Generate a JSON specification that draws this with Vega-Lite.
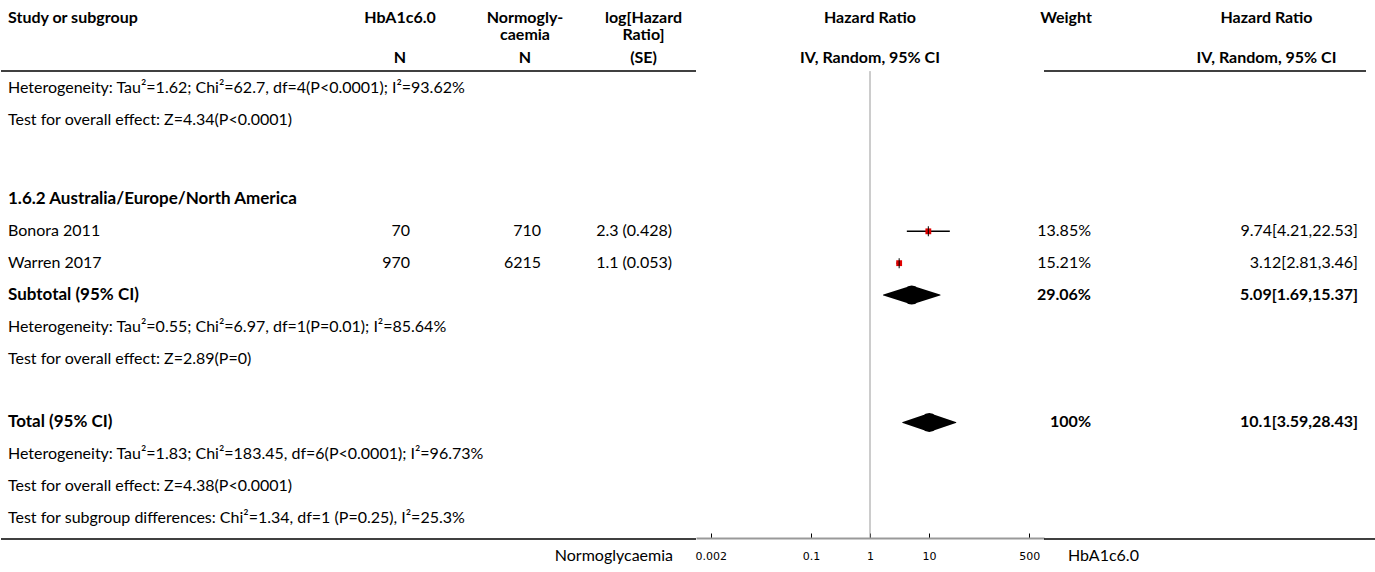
{
  "$schema": "https://vega.github.io/schema/vega-lite/v6.json",
  "padding": 0,
  "spacing": 0,
  "bounds": "flush",
  "config": {"view": {"stroke": null}},
  "datasets": {
    "rows": [
      {"row": 0, "kind": "note", "study": "Heterogeneity: Tau²=1.62; Chi²=62.7, df=4(P<0.0001); I²=93.62%"},
      {"row": 1, "kind": "note", "study": "Test for overall effect: Z=4.34(P<0.0001)"},
      {"row": 3.5, "kind": "group", "study": "1.6.2 Australia/Europe/North America"},
      {"row": 4.5, "kind": "study", "study": "Bonora 2011", "hba": "70", "normo": "710", "logse": "2.3 (0.428)", "weight": "13.85%", "hr": "9.74[4.21,22.53]", "est": 9.74, "lo": 4.21, "hi": 22.53},
      {"row": 5.5, "kind": "study", "study": "Warren 2017", "hba": "970", "normo": "6215", "logse": "1.1 (0.053)", "weight": "15.21%", "hr": "3.12[2.81,3.46]", "est": 3.12, "lo": 2.81, "hi": 3.46},
      {"row": 6.5, "kind": "total", "study": "Subtotal (95% CI)", "weight": "29.06%", "hr": "5.09[1.69,15.37]", "est": 5.09, "lo": 1.69, "hi": 15.37},
      {"row": 7.5, "kind": "note", "study": "Heterogeneity: Tau²=0.55; Chi²=6.97, df=1(P=0.01); I²=85.64%"},
      {"row": 8.5, "kind": "note", "study": "Test for overall effect: Z=2.89(P=0)"},
      {"row": 10.5, "kind": "total", "study": "Total (95% CI)", "weight": "100%", "hr": "10.1[3.59,28.43]", "est": 10.1, "lo": 3.59, "hi": 28.43},
      {"row": 11.5, "kind": "note", "study": "Heterogeneity: Tau²=1.83; Chi²=183.45, df=6(P<0.0001); I²=96.73%"},
      {"row": 12.5, "kind": "note", "study": "Test for overall effect: Z=4.38(P<0.0001)"},
      {"row": 13.5, "kind": "note", "study": "Test for subgroup differences: Chi²=1.34, df=1 (P=0.25), I²=25.3%"}
    ],
    "hdr": [
      {"col": "study", "row": -2.2, "text": "Study or subgroup"},
      {"col": "hba", "row": -2.2, "text": "HbA1c6.0"},
      {"col": "hba", "row": -0.94, "text": "N"},
      {"col": "normo", "row": -2.2, "text": "Normogly-"},
      {"col": "normo", "row": -1.66, "text": "caemia"},
      {"col": "normo", "row": -0.94, "text": "N"},
      {"col": "loghr", "row": -2.2, "text": "log[Hazard"},
      {"col": "loghr", "row": -1.66, "text": "Ratio]"},
      {"col": "loghr", "row": -0.94, "text": "(SE)"},
      {"col": "forest", "row": -2.2, "text": "Hazard Ratio"},
      {"col": "forest", "row": -0.94, "text": "IV, Random, 95% CI"},
      {"col": "weight", "row": -2.2, "text": "Weight"},
      {"col": "hr", "row": -2.2, "text": "Hazard Ratio"},
      {"col": "hr", "row": -0.94, "text": "IV, Random, 95% CI"}
    ],
    "lines": [
      {"kind": "header", "row": -0.53},
      {"kind": "bottom", "row": 14.16}
    ],
    "side": [
      {"col": "normo", "row": 14.69, "text": "Normoglycaemia"},
      {"col": "hba", "row": 14.69, "text": "HbA1c6.0"}
    ],
    "ref": [{"value": 1}]
  },
  "hconcat": [
    {
      "width": 340, "height": 538,
      "layer": [
        {"data": {"name": "hdr"}, "transform": [{"filter": "datum.col === 'study'"}],
         "mark": {"type": "text", "font": "Lato", "fontSize": 16, "fontWeight": "bold", "align": "left", "baseline": "middle", "dx": 7},
         "encoding": {"x": {"value": 0}, "y": {"field": "row", "type": "quantitative", "scale": {"domain": [-2.763, 14.129], "reverse": true, "nice": false, "zero": false}, "axis": null}, "text": {"field": "text"}}},
        {"data": {"name": "rows"}, "transform": [{"filter": "datum.kind === 'note' || datum.kind === 'study'"}],
         "mark": {"type": "text", "font": "Lato", "fontSize": 16, "align": "left", "baseline": "middle", "dx": 7},
         "encoding": {"x": {"value": 0}, "y": {"field": "row", "type": "quantitative", "scale": {"domain": [-2.763, 14.129], "reverse": true, "nice": false, "zero": false}, "axis": null}, "text": {"field": "study"}}},
        {"data": {"name": "rows"}, "transform": [{"filter": "datum.kind === 'group' || datum.kind === 'total'"}],
         "mark": {"type": "text", "font": "Lato", "fontSize": 17, "fontWeight": "bold", "align": "left", "baseline": "middle", "dx": 7},
         "encoding": {"x": {"value": 0}, "y": {"field": "row", "type": "quantitative", "scale": {"domain": [-2.763, 14.129], "reverse": true, "nice": false, "zero": false}, "axis": null}, "text": {"field": "study"}}},
        {"data": {"name": "lines"},
         "mark": {"type": "rule", "color": "#000", "strokeWidth": 1.5},
         "encoding": {"y": {"field": "row", "type": "quantitative", "scale": {"domain": [-2.763, 14.129], "reverse": true, "nice": false, "zero": false}, "axis": null}}}
      ]
    },
    {
      "width": 118, "height": 538,
      "layer": [
        {"data": {"name": "hdr"}, "transform": [{"filter": "datum.col === 'hba'"}],
         "mark": {"type": "text", "font": "Lato", "fontSize": 16, "fontWeight": "bold", "align": "center", "baseline": "middle"},
         "encoding": {"y": {"field": "row", "type": "quantitative", "scale": {"domain": [-2.763, 14.129], "reverse": true, "nice": false, "zero": false}, "axis": null}, "text": {"field": "text"}}},
        {"data": {"name": "rows"}, "transform": [{"filter": "isValid(datum.hba)"}],
         "mark": {"type": "text", "font": "Lato", "fontSize": 16, "align": "right", "baseline": "middle", "dx": -49},
         "encoding": {"x": {"value": "width"}, "y": {"field": "row", "type": "quantitative", "scale": {"domain": [-2.763, 14.129], "reverse": true, "nice": false, "zero": false}, "axis": null}, "text": {"field": "hba"}}},
        {"data": {"name": "lines"},
         "mark": {"type": "rule", "color": "#000", "strokeWidth": 1.5},
         "encoding": {"y": {"field": "row", "type": "quantitative", "scale": {"domain": [-2.763, 14.129], "reverse": true, "nice": false, "zero": false}, "axis": null}}}
      ]
    },
    {
      "width": 132, "height": 538,
      "layer": [
        {"data": {"name": "hdr"}, "transform": [{"filter": "datum.col === 'normo'"}],
         "mark": {"type": "text", "font": "Lato", "fontSize": 16, "fontWeight": "bold", "align": "center", "baseline": "middle"},
         "encoding": {"y": {"field": "row", "type": "quantitative", "scale": {"domain": [-2.763, 14.129], "reverse": true, "nice": false, "zero": false}, "axis": null}, "text": {"field": "text"}}},
        {"data": {"name": "rows"}, "transform": [{"filter": "isValid(datum.normo)"}],
         "mark": {"type": "text", "font": "Lato", "fontSize": 16, "align": "right", "baseline": "middle", "dx": -50},
         "encoding": {"x": {"value": "width"}, "y": {"field": "row", "type": "quantitative", "scale": {"domain": [-2.763, 14.129], "reverse": true, "nice": false, "zero": false}, "axis": null}, "text": {"field": "normo"}}},
        {"data": {"name": "lines"},
         "mark": {"type": "rule", "color": "#000", "strokeWidth": 1.5},
         "encoding": {"y": {"field": "row", "type": "quantitative", "scale": {"domain": [-2.763, 14.129], "reverse": true, "nice": false, "zero": false}, "axis": null}}}
      ]
    },
    {
      "width": 105, "height": 538,
      "layer": [
        {"data": {"name": "hdr"}, "transform": [{"filter": "datum.col === 'loghr'"}],
         "mark": {"type": "text", "font": "Lato", "fontSize": 16, "fontWeight": "bold", "align": "center", "baseline": "middle"},
         "encoding": {"y": {"field": "row", "type": "quantitative", "scale": {"domain": [-2.763, 14.129], "reverse": true, "nice": false, "zero": false}, "axis": null}, "text": {"field": "text"}}},
        {"data": {"name": "rows"}, "transform": [{"filter": "isValid(datum.logse)"}],
         "mark": {"type": "text", "font": "Lato", "fontSize": 16, "align": "right", "baseline": "middle", "dx": -24},
         "encoding": {"x": {"value": "width"}, "y": {"field": "row", "type": "quantitative", "scale": {"domain": [-2.763, 14.129], "reverse": true, "nice": false, "zero": false}, "axis": null}, "text": {"field": "logse"}}},
        {"data": {"name": "side"}, "transform": [{"filter": "datum.col === 'normo'"}],
         "mark": {"type": "text", "font": "Lato", "fontSize": 16, "align": "right", "baseline": "middle", "dx": -23},
         "encoding": {"x": {"value": "width"}, "y": {"field": "row", "type": "quantitative", "scale": {"domain": [-2.763, 14.129], "reverse": true, "nice": false, "zero": false}, "axis": null}, "text": {"field": "text"}}},
        {"data": {"name": "lines"},
         "mark": {"type": "rule", "color": "#000", "strokeWidth": 1.5},
         "encoding": {"y": {"field": "row", "type": "quantitative", "scale": {"domain": [-2.763, 14.129], "reverse": true, "nice": false, "zero": false}, "axis": null}}}
      ]
    },
    {
      "width": 348, "height": 538,
      "layer": [
        {"data": {"name": "hdr"}, "transform": [{"filter": "datum.col === 'forest'"}],
         "mark": {"type": "text", "font": "Lato", "fontSize": 16, "fontWeight": "bold", "align": "center", "baseline": "middle"},
         "encoding": {"y": {"field": "row", "type": "quantitative", "scale": {"domain": [-2.763, 14.129], "reverse": true, "nice": false, "zero": false}, "axis": null}, "text": {"field": "text"}}},
        {"data": {"name": "ref"},
         "mark": {"type": "rule", "color": "#999", "strokeWidth": 1},
         "encoding": {
           "x": {"field": "value", "type": "quantitative", "scale": {"type": "log", "domain": [0.0011246, 889.2], "nice": false},
                 "axis": {"values": [0.002, 0.1, 1, 10, 500], "format": "~g", "title": null, "grid": false, "domainColor": "#999", "domainWidth": 2, "tickColor": "#000", "tickSize": -5, "tickWidth": 1, "labelFont": "DejaVu Sans", "labelFontSize": 11, "labelColor": "#000", "labelPadding": 17, "labelOverlap": false, "labelBound": false}},
           "y": {"datum": -0.53, "type": "quantitative", "scale": {"domain": [-2.763, 14.129], "reverse": true, "nice": false, "zero": false}, "axis": null},
           "y2": {"datum": 14.129}}},
        {"data": {"name": "rows"}, "transform": [{"filter": "datum.kind === 'study'"}],
         "mark": {"type": "rule", "color": "#000", "strokeWidth": 1.5},
         "encoding": {
           "x": {"field": "lo", "type": "quantitative", "scale": {"type": "log", "domain": [0.0011246, 889.2], "nice": false},
                 "axis": {"values": [0.002, 0.1, 1, 10, 500], "format": "~g", "title": null, "grid": false, "domainColor": "#999", "domainWidth": 2, "tickColor": "#000", "tickSize": -5, "tickWidth": 1, "labelFont": "DejaVu Sans", "labelFontSize": 11, "labelColor": "#000", "labelPadding": 17, "labelOverlap": false, "labelBound": false}},
           "x2": {"field": "hi"},
           "y": {"field": "row", "type": "quantitative", "scale": {"domain": [-2.763, 14.129], "reverse": true, "nice": false, "zero": false}, "axis": null}}},
        {"data": {"name": "rows"}, "transform": [{"filter": "datum.kind === 'study'"}],
         "mark": {"type": "point", "shape": "square", "filled": true, "color": "#e00000", "opacity": 1, "size": 34},
         "encoding": {
           "x": {"field": "est", "type": "quantitative", "scale": {"type": "log", "domain": [0.0011246, 889.2], "nice": false},
                 "axis": {"values": [0.002, 0.1, 1, 10, 500], "format": "~g", "title": null, "grid": false, "domainColor": "#999", "domainWidth": 2, "tickColor": "#000", "tickSize": -5, "tickWidth": 1, "labelFont": "DejaVu Sans", "labelFontSize": 11, "labelColor": "#000", "labelPadding": 17, "labelOverlap": false, "labelBound": false}},
           "y": {"field": "row", "type": "quantitative", "scale": {"domain": [-2.763, 14.129], "reverse": true, "nice": false, "zero": false}, "axis": null}}},
        {"data": {"name": "rows"}, "transform": [{"filter": "datum.kind === 'study'"}],
         "mark": {"type": "tick", "orient": "vertical", "color": "#000", "thickness": 1, "size": 10, "opacity": 1},
         "encoding": {
           "x": {"field": "est", "type": "quantitative", "scale": {"type": "log", "domain": [0.0011246, 889.2], "nice": false},
                 "axis": {"values": [0.002, 0.1, 1, 10, 500], "format": "~g", "title": null, "grid": false, "domainColor": "#999", "domainWidth": 2, "tickColor": "#000", "tickSize": -5, "tickWidth": 1, "labelFont": "DejaVu Sans", "labelFontSize": 11, "labelColor": "#000", "labelPadding": 17, "labelOverlap": false, "labelBound": false}},
           "y": {"field": "row", "type": "quantitative", "scale": {"domain": [-2.763, 14.129], "reverse": true, "nice": false, "zero": false}, "axis": null}}},
        {"data": {"name": "rows"}, "transform": [{"filter": "datum.kind === 'total'"}, {"fold": ["lo", "est", "hi"], "as": ["vertex", "v"]}],
         "mark": {"type": "trail", "color": "#000", "opacity": 1},
         "encoding": {
           "x": {"field": "v", "type": "quantitative", "scale": {"type": "log", "domain": [0.0011246, 889.2], "nice": false},
                 "axis": {"values": [0.002, 0.1, 1, 10, 500], "format": "~g", "title": null, "grid": false, "domainColor": "#999", "domainWidth": 2, "tickColor": "#000", "tickSize": -5, "tickWidth": 1, "labelFont": "DejaVu Sans", "labelFontSize": 11, "labelColor": "#000", "labelPadding": 17, "labelOverlap": false, "labelBound": false}},
           "y": {"field": "row", "type": "quantitative", "scale": {"domain": [-2.763, 14.129], "reverse": true, "nice": false, "zero": false}, "axis": null},
           "size": {"field": "vertex", "type": "nominal", "scale": {"type": "ordinal", "domain": ["lo", "est", "hi"], "range": [0, 19, 0]}, "legend": null},
           "detail": {"field": "row", "type": "nominal"},
           "order": {"field": "v", "type": "quantitative"}}}
      ]
    },
    {
      "width": 107, "height": 538,
      "layer": [
        {"data": {"name": "hdr"}, "transform": [{"filter": "datum.col === 'weight'"}],
         "mark": {"type": "text", "font": "Lato", "fontSize": 16, "fontWeight": "bold", "align": "center", "baseline": "middle", "dx": 22},
         "encoding": {"x": {"value": 0}, "y": {"field": "row", "type": "quantitative", "scale": {"domain": [-2.763, 14.129], "reverse": true, "nice": false, "zero": false}, "axis": null}, "text": {"field": "text"}}},
        {"data": {"name": "rows"}, "transform": [{"filter": "datum.kind === 'study'"}],
         "mark": {"type": "text", "font": "Lato", "fontSize": 16, "align": "right", "baseline": "middle", "dx": 47},
         "encoding": {"x": {"value": 0}, "y": {"field": "row", "type": "quantitative", "scale": {"domain": [-2.763, 14.129], "reverse": true, "nice": false, "zero": false}, "axis": null}, "text": {"field": "weight"}}},
        {"data": {"name": "rows"}, "transform": [{"filter": "datum.kind === 'total'"}],
         "mark": {"type": "text", "font": "Lato", "fontSize": 16, "fontWeight": "bold", "align": "right", "baseline": "middle", "dx": 47},
         "encoding": {"x": {"value": 0}, "y": {"field": "row", "type": "quantitative", "scale": {"domain": [-2.763, 14.129], "reverse": true, "nice": false, "zero": false}, "axis": null}, "text": {"field": "weight"}}},
        {"data": {"name": "side"}, "transform": [{"filter": "datum.col === 'hba'"}],
         "mark": {"type": "text", "font": "Lato", "fontSize": 16, "align": "left", "baseline": "middle", "dx": 24},
         "encoding": {"x": {"value": 0}, "y": {"field": "row", "type": "quantitative", "scale": {"domain": [-2.763, 14.129], "reverse": true, "nice": false, "zero": false}, "axis": null}, "text": {"field": "text"}}},
        {"data": {"name": "lines"},
         "mark": {"type": "rule", "color": "#000", "strokeWidth": 1.5},
         "encoding": {"y": {"field": "row", "type": "quantitative", "scale": {"domain": [-2.763, 14.129], "reverse": true, "nice": false, "zero": false}, "axis": null}}}
      ]
    },
    {
      "width": 215, "height": 538,
      "layer": [
        {"data": {"name": "hdr"}, "transform": [{"filter": "datum.col === 'hr'"}],
         "mark": {"type": "text", "font": "Lato", "fontSize": 16, "fontWeight": "bold", "align": "center", "baseline": "middle", "dx": 8},
         "encoding": {"y": {"field": "row", "type": "quantitative", "scale": {"domain": [-2.763, 14.129], "reverse": true, "nice": false, "zero": false}, "axis": null}, "text": {"field": "text"}}},
        {"data": {"name": "rows"}, "transform": [{"filter": "datum.kind === 'study'"}],
         "mark": {"type": "text", "font": "Lato", "fontSize": 16, "align": "right", "baseline": "middle", "dx": -8},
         "encoding": {"x": {"value": "width"}, "y": {"field": "row", "type": "quantitative", "scale": {"domain": [-2.763, 14.129], "reverse": true, "nice": false, "zero": false}, "axis": null}, "text": {"field": "hr"}}},
        {"data": {"name": "rows"}, "transform": [{"filter": "datum.kind === 'total'"}],
         "mark": {"type": "text", "font": "Lato", "fontSize": 16, "fontWeight": "bold", "align": "right", "baseline": "middle", "dx": -8},
         "encoding": {"x": {"value": "width"}, "y": {"field": "row", "type": "quantitative", "scale": {"domain": [-2.763, 14.129], "reverse": true, "nice": false, "zero": false}, "axis": null}, "text": {"field": "hr"}}},
        {"data": {"name": "lines"},
         "mark": {"type": "rule", "color": "#000", "strokeWidth": 1.5},
         "encoding": {"y": {"field": "row", "type": "quantitative", "scale": {"domain": [-2.763, 14.129], "reverse": true, "nice": false, "zero": false}, "axis": null}}}
      ]
    },
    {
      "width": 10, "height": 538,
      "layer": [
        {"data": {"name": "lines"}, "transform": [{"filter": "datum.kind === 'bottom'"}],
         "mark": {"type": "rule", "color": "#000", "strokeWidth": 1.5},
         "encoding": {"y": {"field": "row", "type": "quantitative", "scale": {"domain": [-2.763, 14.129], "reverse": true, "nice": false, "zero": false}, "axis": null}}}
      ]
    }
  ]
}
